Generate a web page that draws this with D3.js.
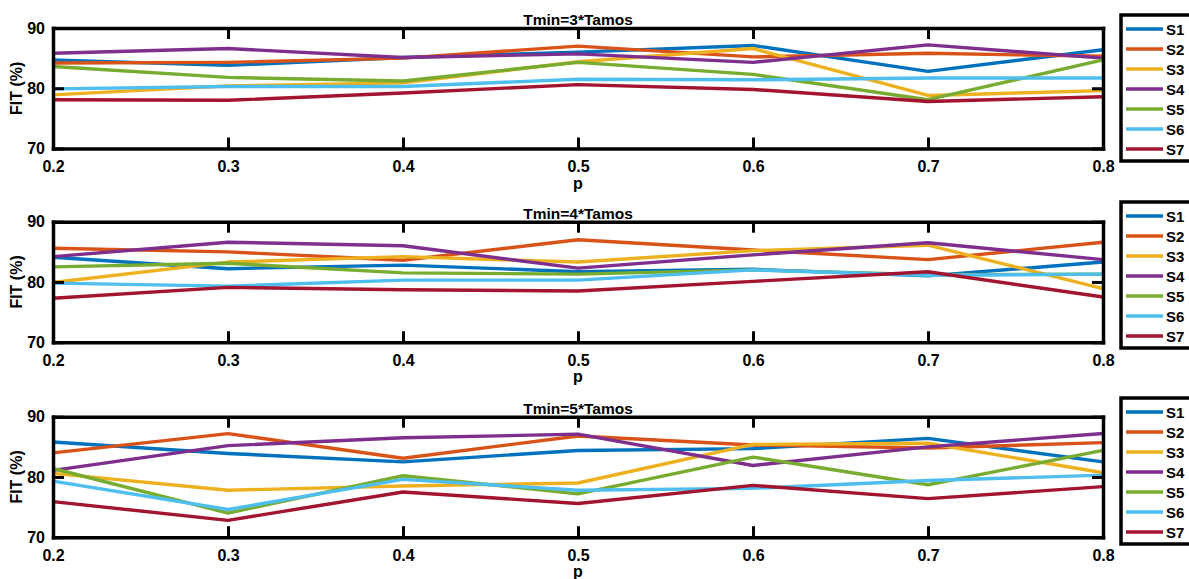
<!DOCTYPE html>
<html>
<head>
<meta charset="utf-8">
<script src="https://cdn.jsdelivr.net/npm/d3@7/dist/d3.min.js"></script>
<style>
  html, body { margin: 0; padding: 0; background: #fff; }
  svg { display: block; }
</style>
</head>
<body>
<svg id="chart" width="1189" height="579"></svg>
<script>
// ---- data ----
const pValues = [0.2, 0.3, 0.4, 0.5, 0.6, 0.7, 0.8];
const xTickLabels = ["0.2", "0.3", "0.4", "0.5", "0.6", "0.7", "0.8"];
const yTickValues = [70, 80, 90];
const seriesNames = ["S1", "S2", "S3", "S4", "S5", "S6", "S7"];
const seriesColors = ["#0072BD", "#D95319", "#EDB120", "#7E2F8E", "#77AC30", "#4DBEEE", "#A2142F"];
const panelTitles = ["Tmin=3*Tamos", "Tmin=4*Tamos", "Tmin=5*Tamos"];

const fitTmin3 = [
  [84.7, 83.8, 85.1, 86.0, 87.1, 82.8, 86.4],
  [84.2, 84.3, 85.0, 87.0, 85.2, 85.8, 85.3],
  [78.9, 80.4, 80.9, 84.4, 86.6, 78.8, 79.6],
  [85.8, 86.6, 85.1, 85.7, 84.3, 87.2, 85.0],
  [83.6, 81.8, 81.2, 84.3, 82.3, 78.1, 84.7],
  [79.9, 80.3, 80.3, 81.5, 81.4, 81.7, 81.7],
  [78.1, 78.0, 79.2, 80.6, 79.8, 77.8, 78.6]
];
const fitTmin4 = [
  [84.1, 82.2, 82.8, 81.7, 82.1, 81.0, 83.3],
  [85.6, 85.0, 83.6, 87.0, 85.3, 83.7, 86.6],
  [79.9, 83.3, 84.2, 83.3, 85.2, 86.1, 78.9],
  [84.2, 86.6, 86.0, 82.3, 84.5, 86.5, 83.7],
  [82.5, 83.1, 81.5, 81.3, 82.0, 81.2, 81.3],
  [79.8, 79.3, 80.3, 80.3, 82.0, 81.1, 81.3],
  [77.3, 79.1, 78.7, 78.5, 80.1, 81.7, 77.5]
];
const fitTmin5 = [
  [85.8, 83.9, 82.5, 84.4, 84.7, 86.4, 82.5],
  [84.0, 87.2, 83.1, 86.8, 85.3, 84.8, 85.7],
  [80.6, 77.8, 78.5, 79.0, 85.4, 85.6, 80.7],
  [81.1, 85.2, 86.5, 87.1, 81.9, 85.0, 87.2],
  [81.4, 74.0, 80.2, 77.2, 83.3, 78.7, 84.4],
  [79.3, 74.6, 79.6, 77.8, 78.1, 79.4, 80.3],
  [75.9, 72.8, 77.5, 75.6, 78.6, 76.4, 78.4]
];
const panelData = [fitTmin3, fitTmin4, fitTmin5];

// ---- layout ----
const FONT = "'Liberation Sans', Arial, Helvetica, sans-serif";
const svg = d3.select("#chart");
const plotLeft = 53, plotRight = 1103;
const panelTops = [28, 221.7, 416.7];
const panelHeight = 120.5;
const legendTops = [15, 202, 398];
const tickLen = 11;

const x = d3.scaleLinear().domain([0.2, 0.8]).range([plotLeft, plotRight]);

function txt(sel, size) {
  return sel.attr("font-family", FONT).attr("font-weight", "bold")
    .attr("font-size", size).attr("fill", "#000");
}

const dataLayer = svg.append("g");
const axisLayer = svg.append("g");
const legendLayer = svg.append("g");

panelData.forEach((data, pi) => {
  const top = panelTops[pi];
  const bottom = top + panelHeight;
  const y = d3.scaleLinear().domain([70, 90]).range([bottom, top]);

  // lines
  const line = d3.line().x((d, i) => x(pValues[i])).y(d => y(d));
  data.forEach((vals, si) => {
    dataLayer.append("path")
      .attr("d", line(vals))
      .attr("fill", "none")
      .attr("stroke", seriesColors[si])
      .attr("stroke-width", 3.4)
      .attr("stroke-linejoin", "round");
  });

  // four axes; their domain lines form the box, ticks point inward
  const xb = d3.axisBottom(x).tickValues(pValues).tickFormat((d, i) => xTickLabels[i])
    .tickSizeInner(-tickLen).tickSizeOuter(0).tickPadding(12);
  const xt = d3.axisTop(x).tickValues(pValues).tickFormat(() => "")
    .tickSizeInner(-tickLen).tickSizeOuter(0);
  const yl = d3.axisLeft(y).tickValues(yTickValues).tickFormat(d3.format("d"))
    .tickSizeInner(-tickLen).tickSizeOuter(0).tickPadding(8);
  const yr = d3.axisRight(y).tickValues(yTickValues).tickFormat(() => "")
    .tickSizeInner(-tickLen).tickSizeOuter(0);

  const styleAxis = sel => {
    sel.select(".domain").attr("stroke", "#000").attr("stroke-width", 3.5)
      .attr("stroke-linecap", "square");
    sel.selectAll(".tick line").attr("stroke", "#000").attr("stroke-width", 3);
    txt(sel.selectAll(".tick text"), 16);
  };
  axisLayer.append("g").attr("transform", `translate(0,${bottom})`).call(xb).call(styleAxis);
  axisLayer.append("g").attr("transform", `translate(0,${top})`).call(xt).call(styleAxis);
  axisLayer.append("g").attr("transform", `translate(${plotLeft},0)`).call(yl).call(styleAxis);
  axisLayer.append("g").attr("transform", `translate(${plotRight},0)`).call(yr).call(styleAxis);

  // title
  txt(axisLayer.append("text"), 15.5).attr("x", (plotLeft + plotRight) / 2).attr("y", top - 3)
    .attr("text-anchor", "middle").text(panelTitles[pi]);
  // x label
  txt(axisLayer.append("text"), 16).attr("x", (plotLeft + plotRight) / 2).attr("y", bottom + 40)
    .attr("text-anchor", "middle").text("p");
  // y label
  txt(axisLayer.append("text"), 16)
    .attr("transform", `translate(22,${(top + bottom) / 2}) rotate(-90)`)
    .attr("text-anchor", "middle").text("FIT (%)");

  // legend
  const lt = legendTops[pi];
  const lg = legendLayer.append("g");
  lg.append("rect").attr("x", 1121).attr("y", lt).attr("width", 100).attr("height", 146)
    .attr("fill", "#fff").attr("stroke", "#000").attr("stroke-width", 3.5);
  seriesNames.forEach((name, si) => {
    const ly = lt + 14 + si * 20;
    lg.append("line").attr("x1", 1126).attr("x2", 1163).attr("y1", ly).attr("y2", ly)
      .attr("stroke", seriesColors[si]).attr("stroke-width", 3.4);
    txt(lg.append("text"), 15).attr("x", 1166).attr("y", ly + 5.5).text(name);
  });
});
</script>
</body>
</html>
